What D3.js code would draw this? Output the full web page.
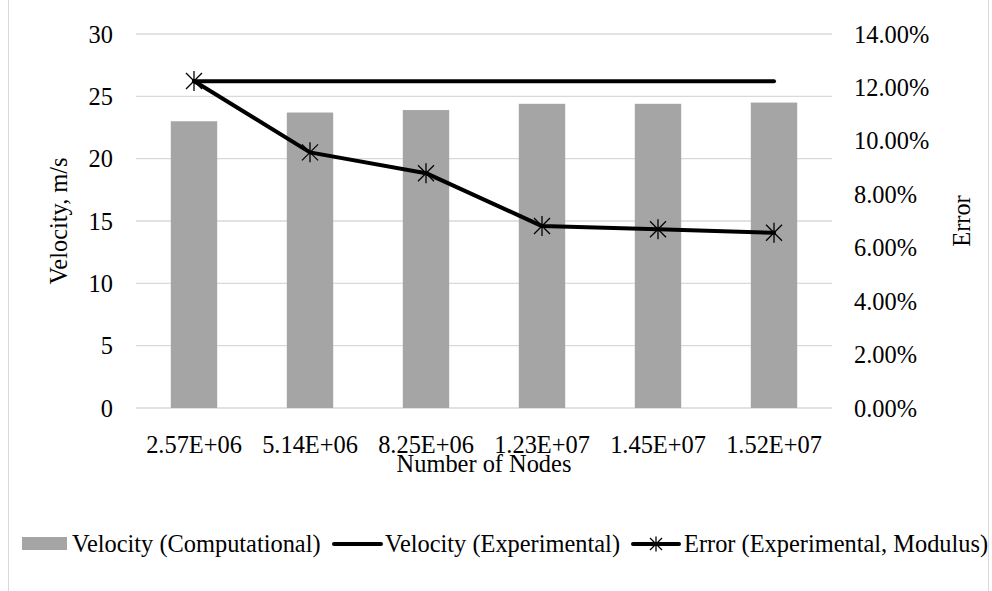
<!DOCTYPE html>
<html>
<head>
<meta charset="utf-8">
<script src="https://cdn.jsdelivr.net/npm/d3@7"></script>
<style>
  body { margin: 0; background: #fff; }
  svg text { font-family: "Liberation Serif", "Times New Roman", Tinos, "DejaVu Serif", serif !important; fill: #000; }
</style>
</head>
<body>
<script>
const WIDTH = 992
const HEIGHT = 591
const FONT = '"Liberation Serif", "Times New Roman", Tinos, "DejaVu Serif", serif'
const FS = '24.4px'

// data
const NODES = ['2.57E+06', '5.14E+06', '8.25E+06', '1.23E+07', '1.45E+07', '1.52E+07']
const VEL_COMP = [23.0, 23.7, 23.9, 24.4, 24.4, 24.5]
const VEL_EXP = [26.2, 26.2, 26.2, 26.2, 26.2, 26.2]
const ERROR = [0.1224, 0.0957, 0.0879, 0.0681, 0.0669, 0.0656]
const LEFT_TICKS = [0, 5, 10, 15, 20, 25, 30]
const RIGHT_TICKS = [0, 0.02, 0.04, 0.06, 0.08, 0.10, 0.12, 0.14]
const LEGEND = ['Velocity (Computational)', 'Velocity (Experimental)', 'Error (Experimental, Modulus)']

const plot = { left: 136, right: 832, top: 34, bottom: 408 }

const svg = d3.select('body').append('svg')
  .attr('width', WIDTH)
  .attr('height', HEIGHT)
  .attr('font-family', FONT)

// outer frame
svg.append('rect')
  .attr('x', 8.5).attr('y', -1)
  .attr('width', 980).attr('height', HEIGHT + 2)
  .attr('fill', 'none')
  .attr('stroke', '#D9D9D9')

const x = d3.scaleBand()
  .domain(NODES)
  .range([plot.left, plot.right])
  .padding(0)

const yLeft = d3.scaleLinear().domain([0, 30]).range([plot.bottom, plot.top])
const yRight = d3.scaleLinear().domain([0, 0.14]).range([plot.bottom, plot.top])

// gridlines
svg.append('g')
  .selectAll('line')
  .data(LEFT_TICKS)
  .enter()
  .append('line')
  .attr('x1', plot.left).attr('x2', plot.right)
  .attr('y1', d => yLeft(d)).attr('y2', d => yLeft(d))
  .attr('stroke', '#D9D9D9')
  .attr('stroke-width', 1.3)

// left axis
const leftAxis = svg.append('g')
  .attr('transform', `translate(${plot.left - 23},0)`)
  .call(d3.axisLeft(yLeft).tickValues(LEFT_TICKS).tickSize(0).tickPadding(0))
leftAxis.attr('font-family', FONT)
leftAxis.select('.domain').remove()
leftAxis.selectAll('text').style('font-size', FS).attr('dy', '0.33em')

// right axis
const rightAxis = svg.append('g')
  .attr('transform', `translate(${plot.right + 22},0)`)
  .call(d3.axisRight(yRight).tickValues(RIGHT_TICKS).tickSize(0).tickPadding(0)
    .tickFormat(d => (d * 100).toFixed(2) + '%'))
rightAxis.attr('font-family', FONT)
rightAxis.select('.domain').remove()
rightAxis.selectAll('text').style('font-size', FS).attr('dy', '0.33em')

// x axis labels
const bottomAxis = svg.append('g')
  .attr('transform', `translate(0,${plot.bottom})`)
  .call(d3.axisBottom(x).tickSize(0).tickPadding(0))
bottomAxis.attr('font-family', FONT)
bottomAxis.select('.domain').remove()
bottomAxis.selectAll('text').style('font-size', FS).attr('dy', '0').attr('y', 44.5)

// bars
const BAR_W = x.bandwidth() * 0.4
svg.append('g')
  .selectAll('rect')
  .data(VEL_COMP)
  .enter()
  .append('rect')
  .attr('x', (d, i) => x(NODES[i]) + x.bandwidth() / 2 - BAR_W / 2)
  .attr('width', BAR_W)
  .attr('y', d => yLeft(d))
  .attr('height', d => plot.bottom - yLeft(d))
  .attr('fill', '#A5A5A5')

const cx = i => x(NODES[i]) + x.bandwidth() / 2

// experimental velocity line
svg.append('path')
  .datum(VEL_EXP)
  .attr('d', d3.line().x((d, i) => cx(i)).y(d => yLeft(d)))
  .attr('fill', 'none')
  .attr('stroke', '#000')
  .attr('stroke-width', 4)
  .attr('stroke-linecap', 'round')

// error line
svg.append('path')
  .datum(ERROR)
  .attr('d', d3.line().x((d, i) => cx(i)).y(d => yRight(d)))
  .attr('fill', 'none')
  .attr('stroke', '#000')
  .attr('stroke-width', 4)
  .attr('stroke-linejoin', 'round')
  .attr('stroke-linecap', 'round')

// star markers
const star = (g, s) => {
  g.append('line').attr('x1', -s).attr('y1', -s).attr('x2', s).attr('y2', s)
  g.append('line').attr('x1', -s).attr('y1', s).attr('x2', s).attr('y2', -s)
  g.append('line').attr('x1', 0).attr('y1', -s * 1.25).attr('x2', 0).attr('y2', s * 1.25)
  g.selectAll('line').attr('stroke', '#000').attr('stroke-width', 1.3)
}
svg.append('g')
  .selectAll('g')
  .data(ERROR)
  .enter()
  .append('g')
  .attr('transform', (d, i) => `translate(${cx(i)},${yRight(d)})`)
  .each(function () { star(d3.select(this), 8) })

// axis titles
svg.append('text')
  .attr('transform', `translate(66.5,${(plot.top + plot.bottom) / 2}) rotate(-90)`)
  .attr('text-anchor', 'middle')
  .style('font-size', FS)
  .text('Velocity, m/s')

svg.append('text')
  .attr('transform', `translate(970,${(plot.top + plot.bottom) / 2}) rotate(-90)`)
  .attr('text-anchor', 'middle')
  .style('font-size', FS)
  .text('Error')

svg.append('text')
  .attr('x', (plot.left + plot.right) / 2)
  .attr('y', 472)
  .attr('text-anchor', 'middle')
  .style('font-size', FS)
  .text('Number of Nodes')

// legend
const legY = 544
const leg = svg.append('g')
leg.append('rect').attr('x', 22).attr('y', legY - 7).attr('width', 45).attr('height', 13).attr('fill', '#A5A5A5')
leg.append('text').attr('x', 72).attr('y', legY + 8).style('font-size', FS).text(LEGEND[0])

leg.append('line').attr('x1', 334).attr('x2', 381).attr('y1', legY).attr('y2', legY)
  .attr('stroke', '#000').attr('stroke-width', 4).attr('stroke-linecap', 'round')
leg.append('text').attr('x', 385).attr('y', legY + 8).style('font-size', FS).text(LEGEND[1])

leg.append('line').attr('x1', 633).attr('x2', 679).attr('y1', legY).attr('y2', legY)
  .attr('stroke', '#000').attr('stroke-width', 4).attr('stroke-linecap', 'round')
const lm = leg.append('g').attr('transform', `translate(656,${legY})`)
star(lm, 6)
leg.append('text').attr('x', 684).attr('y', legY + 8).style('font-size', FS).text(LEGEND[2])
</script>
</body>
</html>
